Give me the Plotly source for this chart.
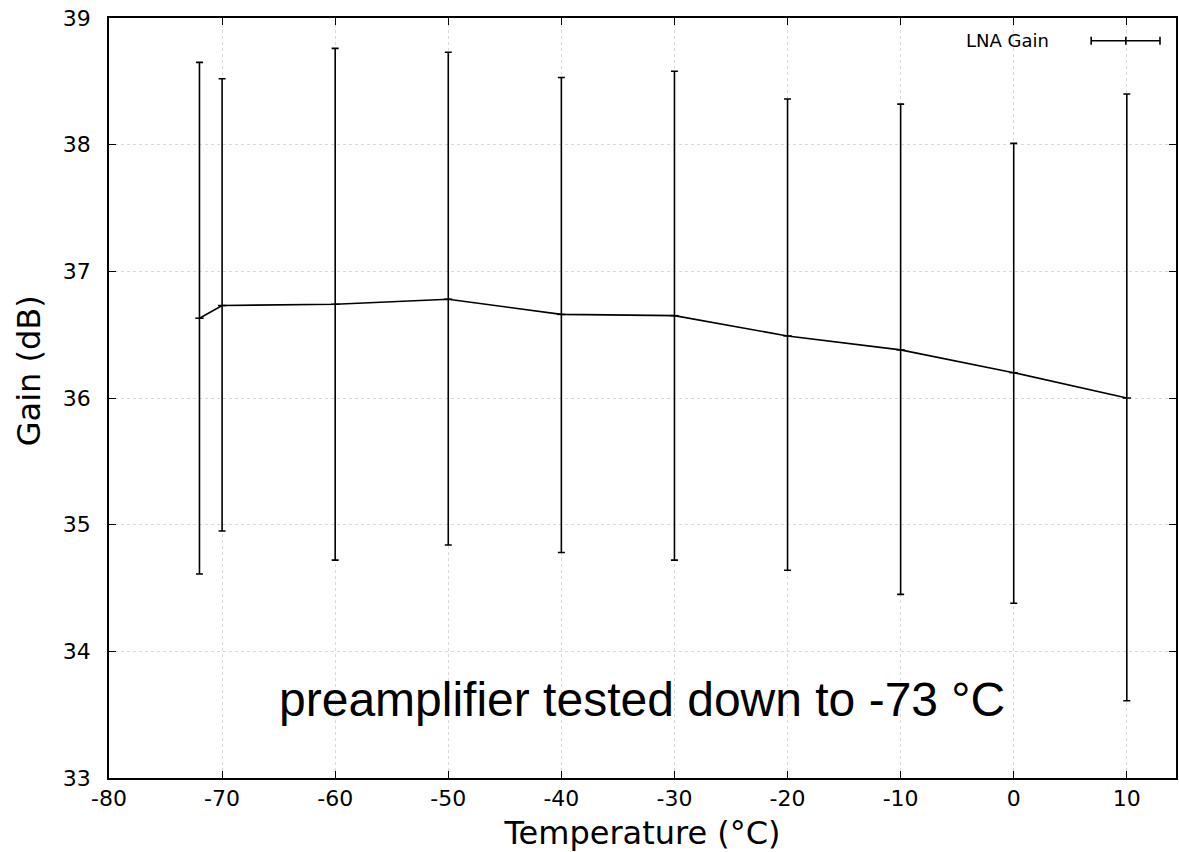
import plotly.graph_objects as go

temperature = [-72, -70, -60, -50, -40, -30, -20, -10, 0, 10]
gain_mean = [36.63, 36.73, 36.74, 36.78, 36.66, 36.65, 36.49, 36.38, 36.20, 36.00]
gain_upper = [38.65, 38.52, 38.76, 38.73, 38.53, 38.58, 38.36, 38.32, 38.01, 38.40]
gain_lower = [34.61, 34.95, 34.72, 34.84, 34.78, 34.72, 34.64, 34.45, 34.38, 33.61]

err_plus = [u - m for u, m in zip(gain_upper, gain_mean)]
err_minus = [m - l for m, l in zip(gain_mean, gain_lower)]

x_ticks = [-80, -70, -60, -50, -40, -30, -20, -10, 0, 10]
y_ticks = [33, 34, 35, 36, 37, 38, 39]

fig = go.Figure()
fig.add_trace(go.Scatter(
    x=temperature, y=gain_mean, mode="lines+markers", name="LNA Gain",
    line=dict(color="black", width=1.6),
    marker=dict(symbol="line-ew", size=6, line=dict(color="black", width=1.5)),
    error_y=dict(type="data", symmetric=False, array=err_plus, arrayminus=err_minus,
                 color="black", thickness=1.6, width=3.5),
    showlegend=False,
))

# legend (manual, gnuplot style: text then error-bar sample)
fig.add_annotation(x=0.883, y=0.970, xref="paper", yref="paper", text="LNA Gain",
                   showarrow=False, xanchor="right", yanchor="middle",
                   font=dict(family="DejaVu Sans", size=18, color="black"))
lx0, lx1, lxm, ly, cap = 0.9205, 0.985, 0.953, 0.970, 0.0053
for s in [dict(x0=lx0, x1=lx1, y0=ly, y1=ly),
          dict(x0=lx0, x1=lx0, y0=ly - cap, y1=ly + cap),
          dict(x0=lx1, x1=lx1, y0=ly - cap, y1=ly + cap),
          dict(x0=lxm, x1=lxm, y0=ly - cap, y1=ly + cap)]:
    fig.add_shape(type="line", xref="paper", yref="paper",
                  line=dict(color="black", width=1.6), **s)

fig.add_annotation(x=-32.9, y=33.62, text="preamplifier tested down to -73 °C",
                   showarrow=False, xanchor="center", yanchor="middle",
                   font=dict(family="Liberation Sans, Arial", size=48, color="black"))

# y-axis title (gnuplot places it slightly above centre)
fig.add_annotation(x=-0.0748, y=0.5355, xref="paper", yref="paper", text="Gain (dB)",
                   textangle=-90, showarrow=False, xanchor="center", yanchor="middle",
                   font=dict(family="DejaVu Sans", size=32, color="black"))

axis_common = dict(
    showline=True, linecolor="black", linewidth=1.5, mirror="ticks",
    ticks="inside", ticklen=7, tickcolor="black", tickwidth=1.2,
    showgrid=True, gridcolor="#d9d9d9", griddash="dot", gridwidth=1,
    zeroline=False,
    tickfont=dict(family="DejaVu Sans", size=22, color="black"),
)

fig.update_xaxes(range=[-80, 14.35], tickvals=x_ticks, ticktext=[str(v) for v in x_ticks],
                 title=dict(text="Temperature (°C)", standoff=17,
                            font=dict(family="DejaVu Sans", size=32, color="black")),
                 **axis_common)
fig.update_yaxes(range=[33, 39], tickvals=y_ticks, ticktext=[str(v) for v in y_ticks],
                 ticklabelstandoff=12, **axis_common)

fig.update_layout(
    width=1179, height=852,
    margin=dict(l=109, r=1, t=18, b=74),
    paper_bgcolor="white", plot_bgcolor="white",
    showlegend=False,
)

fig.write_html("out.html")
